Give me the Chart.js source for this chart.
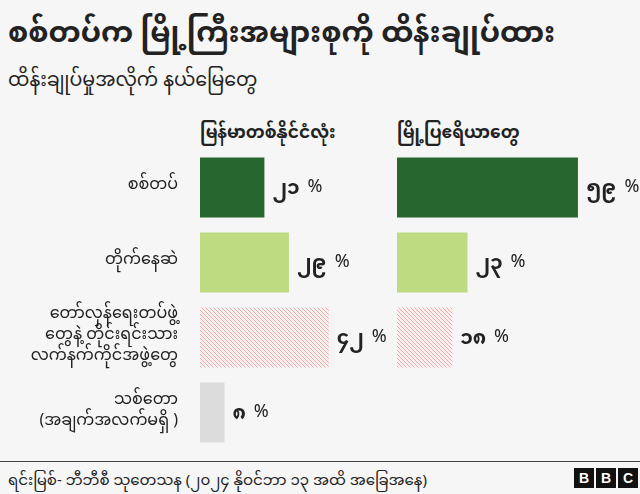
<!DOCTYPE html>
<html><head><meta charset="utf-8">
<script src="https://cdn.jsdelivr.net/npm/chart.js@4"></script>
<style>
body{margin:0;width:640px;height:494px;background:#f6f6f6;position:relative;overflow:hidden;font-family:'Noto Sans Myanmar','Noto Sans',sans-serif;color:#222}
.t{position:absolute;white-space:nowrap}
#c1{position:absolute;left:0;top:150px}
#c2{position:absolute;left:397px;top:150px}
.bbc{position:absolute;top:468px;width:20px;height:20px;background:#111;color:#fff;font:bold 14px 'Liberation Sans',sans-serif;text-align:center;line-height:20px}
</style></head><body>
<div class="t" style="left:8px;top:4px;font-size:29px;font-weight:bold">စစ်တပ်က မြို့ကြီးအများစုကို ထိန်းချုပ်ထား</div>
<div class="t" style="left:8px;top:61px;font-size:19px">ထိန်းချုပ်မှုအလိုက် နယ်မြေတွေ</div>
<div class="t" style="left:200px;top:115px;font-size:17px;font-weight:bold">မြန်မာတစ်နိုင်ငံလုံး</div>
<div class="t" style="left:397px;top:115px;font-size:17px;font-weight:bold">မြို့ပြဧရိယာတွေ</div>
<canvas id="c1" width="397" height="300" style="width:397px;height:300px"></canvas>
<canvas id="c2" width="243" height="300" style="width:243px;height:300px"></canvas>
<div style="position:absolute;left:0;top:461px;width:640px;height:1px;background:#444"></div>
<div class="t" style="left:8px;top:465px;font-size:15px">ရင်းမြစ်- ဘီဘီစီ သုတေသန (၂၀၂၄ နိုဝင်ဘာ ၁၃ အထိ အခြေအနေ)</div>
<div class="bbc" style="left:574px">B</div><div class="bbc" style="left:596px">B</div><div class="bbc" style="left:618px">C</div>
<script>
const categories=[["စစ်တပ်"],["တိုက်နေဆဲ"],["တော်လှန်ရေးတပ်ဖွဲ့","တွေနဲ့ တိုင်းရင်းသား","လက်နက်ကိုင်အဖွဲ့တွေ"],["သစ်တော","(အချက်အလက်မရှိ )"]];
const nationwide=[21,29,42,8];
const urban=[59,23,18,null];
function my(n){return String(n).replace(/\d/g,d=>"၀၁၂၃၄၅၆၇၈၉"[d]);}
function hatch(){const c=document.createElement('canvas');c.width=4;c.height=4;const x=c.getContext('2d');
x.fillStyle='#fcf0f0';x.fillRect(0,0,4,4);x.strokeStyle='#f0aaaa';x.lineWidth=1;
x.beginPath();x.moveTo(0,0);x.lineTo(4,4);x.moveTo(-2,2);x.lineTo(2,6);x.moveTo(2,-2);x.lineTo(6,2);x.stroke();
return x.createPattern(c,'repeat');}
const h=hatch();
const colors=['#27662f','#bedb82',h,'#dcdcdc'];
const valLabel={id:'vl',afterDatasetsDraw(ch){const ctx=ch.ctx;const m=ch.getDatasetMeta(0);
ctx.save();ctx.fillStyle='#222';ctx.textBaseline='middle';
m.data.forEach((b,i)=>{const v=ch.data.datasets[0].data[i];if(v==null)return;
ctx.font="bold 20px 'Noto Sans Myanmar',sans-serif";ctx.fillText(my(v),b.x+8,b.y+4);
const w=ctx.measureText(my(v)).width;ctx.font="18px 'Noto Sans',sans-serif";ctx.fillText('%',b.x+16+w,b.y-1);});
ctx.restore();}};
function mk(id,data,showY,padR){return new Chart(document.getElementById(id),{type:'bar',
data:{labels:categories,datasets:[{data:data,backgroundColor:colors,categoryPercentage:0.8,barPercentage:1}]},
options:{indexAxis:'y',responsive:false,animation:false,devicePixelRatio:1,
layout:{padding:{left:0,top:0,bottom:0,right:padR}},
plugins:{legend:{display:false},tooltip:{enabled:false}},
scales:{x:{min:0,max:60,display:false},
y:{display:showY,grid:{display:false},border:{display:false},
ticks:{color:'#222',font:{size:16,family:"'Noto Sans Myanmar',sans-serif",lineHeight:1.3},padding:14},
afterFit:s=>{s.paddingTop=0;s.paddingBottom=0;if(showY)s.width=200;}}}},
plugins:[valLabel]});}
mk('c1',nationwide,true,13);
mk('c2',urban,false,59);
</script>
</body></html>
